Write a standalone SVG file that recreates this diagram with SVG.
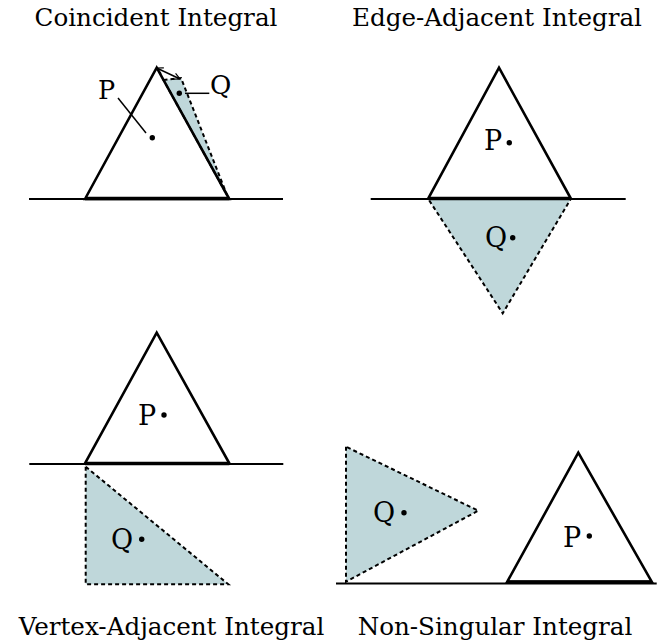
<svg xmlns="http://www.w3.org/2000/svg" width="657" height="643" viewBox="0 0 657 643">
<style>
.title{font-family:"DejaVu Serif",serif;font-size:24.6px;fill:#000;text-anchor:middle}
.lbl{font-family:"DejaVu Serif",serif;font-size:27px;fill:#000}
.tri{fill:#fff;stroke:#000;stroke-width:2.6;stroke-linejoin:miter}
.q{fill:#bfd7da;stroke:#000;stroke-width:2;stroke-dasharray:4,3}
.ground{stroke:#000;stroke-width:2;fill:none}
.base{stroke:#000;stroke-width:3.5;fill:none}
.lead{stroke:#000;stroke-width:1.5;fill:none}
</style>
<defs>
<marker id="ah" viewBox="0 0 10 10" refX="9" refY="5" markerWidth="8" markerHeight="8" orient="auto-start-reverse" markerUnits="userSpaceOnUse">
<path d="M1,1 L9,5 L1,9" fill="none" stroke="#000" stroke-width="1.5"/>
</marker>
</defs>
<rect width="657" height="643" fill="#fff"/>

<text class="title" x="156" y="26">Coincident Integral</text>
<text class="title" x="497" y="26">Edge-Adjacent Integral</text>
<text class="title" x="171.5" y="635">Vertex-Adjacent Integral</text>
<text class="title" x="495" y="635">Non-Singular Integral</text>

<g id="coincident">
<line class="ground" x1="29" y1="199" x2="283" y2="199"/>
<polygon class="q" points="163.5,80 181,78 227,195"/>
<polygon class="tri" points="85,199 156.7,67.7 229.3,199" style="fill:none"/>
<line class="base" x1="85" y1="198.5" x2="229.3" y2="198.5"/>
<line class="lead" x1="156.7" y1="68" x2="180" y2="79" marker-start="url(#ah)" marker-end="url(#ah)"/>
<line class="lead" x1="118" y1="98" x2="146" y2="133"/>
<circle cx="152.3" cy="137.7" r="2.7"/>
<text class="lbl" x="98" y="98.5" style="font-size:25.5px">P</text>
<circle cx="179.3" cy="93.3" r="2.7"/>
<line class="lead" x1="185" y1="93.3" x2="209.3" y2="93.3"/>
<text class="lbl" x="210" y="94" style="font-size:26px">Q</text>
</g>

<g id="edge-adjacent">
<line class="ground" x1="370.7" y1="199" x2="625.7" y2="199"/>
<polygon class="q" points="428.3,199 570.7,199 502.7,313.3"/>
<polygon class="tri" points="428.3,198.3 499,67.7 570.7,198.3"/>
<line class="base" x1="428.3" y1="198.5" x2="570.7" y2="198.5"/>
<text class="lbl" x="484" y="149.5">P</text>
<circle cx="509.3" cy="142.7" r="2.7"/>
<text class="lbl" x="485" y="246.5">Q</text>
<circle cx="512.7" cy="237.7" r="2.7"/>
</g>

<g id="vertex-adjacent">
<line class="ground" x1="29.3" y1="464" x2="283.3" y2="464"/>
<polygon class="q" points="85.7,466.7 85.7,584.3 228.3,584.3"/>
<polygon class="tri" points="85,463.3 156.7,332.7 229.3,463.3"/>
<line class="base" x1="85" y1="463.5" x2="229.3" y2="463.5"/>
<text class="lbl" x="138" y="425">P</text>
<circle cx="164" cy="415" r="2.7"/>
<text class="lbl" x="111" y="548.5">Q</text>
<circle cx="141.7" cy="539.3" r="2.7"/>
</g>

<g id="non-singular">
<polygon class="q" points="346,446.7 346,581.7 478.3,510.7"/>
<line class="ground" x1="336" y1="583.5" x2="656.7" y2="583.5"/>
<polygon class="tri" points="507.3,581.7 578.3,452.7 651.7,581.7"/>
<line class="base" x1="507.3" y1="582" x2="651.7" y2="582"/>
<text class="lbl" x="373" y="521.5">Q</text>
<circle cx="404" cy="512.7" r="2.7"/>
<text class="lbl" x="563" y="546.5">P</text>
<circle cx="589.3" cy="536" r="2.7"/>
</g>
</svg>
